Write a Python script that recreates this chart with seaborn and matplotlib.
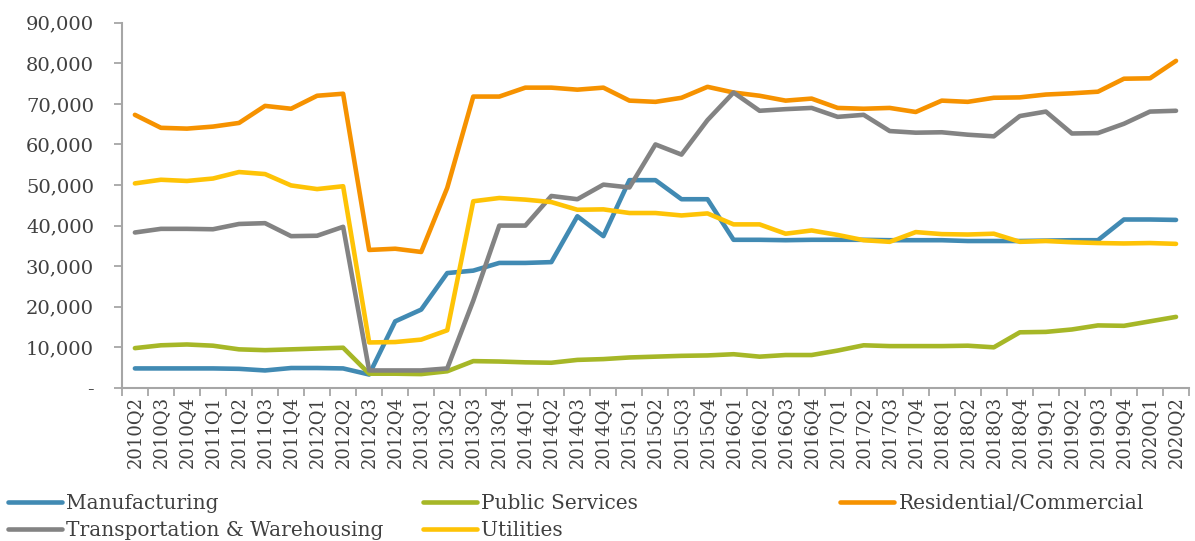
import pandas as pd
import numpy as np
import matplotlib.pyplot as plt
import seaborn as sns
from matplotlib.ticker import FuncFormatter, FixedLocator

sns.set_theme(style="white")
plt.rcParams['font.family'] = ['DejaVu Serif']

quarters = [f"{y}Q{q}" for y in range(2010, 2021) for q in range(1, 5)]
quarters = quarters[1:42]  # 2010Q2 .. 2020Q2

manufacturing = [4800, 4800, 4800, 4800, 4700, 4300, 4900, 4900, 4800, 3300,
                 16400, 19300, 28300, 28900, 30800, 30800, 31000, 42300, 37400, 51200,
                 51200, 46500, 46500, 36500, 36500, 36400, 36500, 36500, 36500, 36400,
                 36400, 36400, 36200, 36200, 36200, 36300, 36400, 36400, 41500, 41500,
                 41400]
public_services = [9800, 10500, 10700, 10400, 9500, 9300, 9500, 9700, 9900, 3500,
                   3500, 3400, 4100, 6600, 6500, 6300, 6200, 6900, 7100, 7500,
                   7700, 7900, 8000, 8300, 7700, 8100, 8100, 9200, 10500, 10300,
                   10300, 10300, 10400, 10000, 13700, 13800, 14400, 15400, 15300, 16400,
                   17500]
residential = [67300, 64100, 63900, 64400, 65300, 69500, 68800, 72000, 72500, 34000,
               34300, 33500, 49300, 71800, 71800, 74000, 74000, 73500, 74000, 70800,
               70500, 71500, 74200, 72800, 72000, 70800, 71300, 69000, 68800, 69000,
               68000, 70800, 70500, 71500, 71600, 72300, 72600, 73000, 76200, 76300,
               80600]
transportation = [38300, 39200, 39200, 39100, 40400, 40600, 37400, 37500, 39700, 4300,
                  4300, 4300, 4800, 21500, 40000, 40000, 47300, 46500, 50100, 49400,
                  60000, 57500, 66000, 72800, 68300, 68700, 69000, 66800, 67300, 63300,
                  62900, 63000, 62400, 62000, 67000, 68100, 62700, 62800, 65100, 68100,
                  68300]
utilities = [50400, 51300, 51000, 51600, 53200, 52700, 49900, 49000, 49700, 11200,
             11300, 11900, 14200, 46000, 46800, 46400, 45800, 43900, 44000, 43100,
             43100, 42500, 43000, 40300, 40300, 38000, 38800, 37700, 36400, 36000,
             38400, 37900, 37800, 38000, 36000, 36200, 35900, 35700, 35600, 35700,
             35500]

series = {
    'Manufacturing': manufacturing,
    'Public Services': public_services,
    'Residential/Commercial': residential,
    'Transportation & Warehousing': transportation,
    'Utilities': utilities,
}
colors = {
    'Manufacturing': '#418AB3',
    'Public Services': '#A6B727',
    'Residential/Commercial': '#F69200',
    'Transportation & Warehousing': '#838383',
    'Utilities': '#FEC306',
}

df = pd.concat([pd.DataFrame({'quarter': quarters, 'value': v, 'sector': k})
                for k, v in series.items()], ignore_index=True)
df['pos'] = df['quarter'].map({q: i for i, q in enumerate(quarters)})

fig = plt.figure(figsize=(11.95, 5.41), dpi=100)
ax = fig.add_axes([0.102, 0.283, 0.893, 0.675])

sns.lineplot(data=df, x='pos', y='value', hue='sector', palette=colors,
             linewidth=3.3, ax=ax, legend=False, solid_capstyle='round',
             solid_joinstyle='round')

text_color = '#404040'
spine_color = '#A6A6A6'

ax.set_xlim(-0.5, len(quarters) - 0.5)
ax.set_ylim(0, 90000)
ax.set_xlabel('')
ax.set_ylabel('')

ax.set_xticks(range(len(quarters)))
ax.set_xticklabels(quarters, rotation=90, fontsize=13, color=text_color)
ax.xaxis.set_minor_locator(FixedLocator(np.arange(-0.5, len(quarters), 1.0)))
ax.tick_params(axis='x', which='major', length=0, pad=6)
ax.tick_params(axis='x', which='minor', length=6, width=1.3, color=spine_color,
               direction='out', bottom=True)

ax.set_yticks(range(0, 90001, 10000))
ax.yaxis.set_major_formatter(FuncFormatter(lambda v, p: '-' if v == 0 else f'{int(v):,}'))
ax.tick_params(axis='y', length=6, width=1.3, color=spine_color, direction='out',
               labelsize=14, labelcolor=text_color, pad=14, left=True)

for side in ['top', 'right']:
    ax.spines[side].set_visible(False)
for side in ['left', 'bottom']:
    ax.spines[side].set_color(spine_color)
    ax.spines[side].set_linewidth(1.5)

# legend laid out like the original: three columns at fixed places
legend_cols = [
    (0.0067, ['Manufacturing', 'Transportation & Warehousing']),
    (0.354, ['Public Services', 'Utilities']),
    (0.703, ['Residential/Commercial']),
]
for x0, names in legend_cols:
    handles = [plt.Line2D([], [], color=colors[k], linewidth=3.3, solid_capstyle='round')
               for k in names]
    leg = fig.legend(handles, names, loc='upper left', bbox_to_anchor=(x0, 0.087),
                     frameon=False, fontsize=14.5, handlelength=2.7,
                     handletextpad=0.2, labelspacing=0.38, borderpad=0.0,
                     borderaxespad=0.0)
    for t in leg.get_texts():
        t.set_color(text_color)

fig.savefig('out.png', dpi=100)
